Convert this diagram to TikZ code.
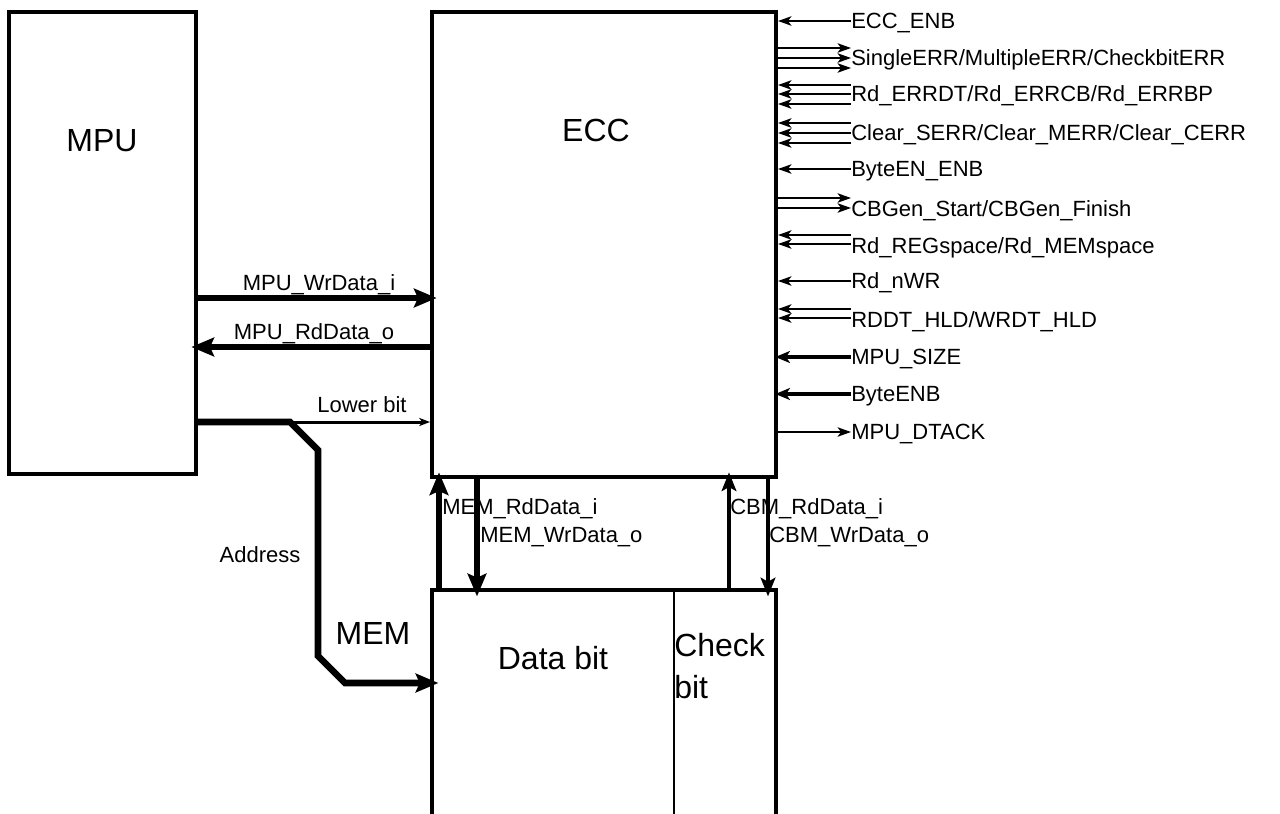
\documentclass[tikz,border=0pt]{standalone}
\usepackage{fontspec}
\setmainfont{Liberation Sans}
\usepackage{tikz}
\usetikzlibrary{arrows.meta, positioning}

\tikzset{
	blk/.style={draw, line width=3pt, inner sep=0pt},
	lbl/.style={inner sep=0pt, font=\fontsize{16.5}{18}\selectfont, text height=11.9pt, text depth=0pt},
	big/.style={inner sep=0pt, font=\fontsize{24}{28}\selectfont, text height=17.3pt, text depth=0pt},
	sigin/.style={line width=1.5pt, -{Stealth[length=10pt, width=7pt, inset=2.5pt]}},
	sigout/.style={line width=1.5pt, -{Stealth[length=10pt, width=7pt, inset=2.5pt]}},
	sigthk/.style={line width=3pt, -{Stealth[length=11pt, width=9pt, inset=3pt]}, shorten >=-2pt},
	bus/.style={line width=5pt, -{Stealth[length=17pt, width=14pt, inset=3pt]}, shorten >=-5pt},
	cbus/.style={line width=3.5pt, -{Stealth[length=14pt, width=11pt, inset=3pt]}, shorten >=-5pt},
	lowbus/.style={line width=2.25pt, -{Stealth[length=8pt, width=6pt, inset=2pt]}},
}

\begin{document}
\begin{tikzpicture}[x=0.75pt, y=-0.75pt]
			\useasboundingbox (0,0) rectangle (1280,813);
			% Paths, nodes and wires:
			\node[blk, minimum width=140.25pt, minimum height=346.5pt](mpu) at (102.5, 243){};
			\node[blk, minimum width=258pt, minimum height=348.75pt](ecc) at (604, 244.5){};
			\node[inner sep=0pt, minimum width=258pt, minimum height=182.25pt](mem) at (604, 711.5){};
			\draw[line width=3pt] (mem.south west) -- (mem.north west) -- (mem.north east) -- (mem.south east);
			\coordinate (divtop) at (674, 592);
			\draw[line width=1.1pt] (divtop) -- (divtop |- mem.south);
			\node[big](mpuT) at (102, 140){MPU};
			\node[big](eccT) at (596, 130){ECC};
			\node[big](memT) at (373, 633){MEM};
			\node[big](dataT) at (553, 658){Data bit};
			\node[inner sep=0pt, anchor=north west, align=left, font=\fontsize{24}{31.5}\selectfont](chkT) at (674, 633){Check\\bit};
			\node[lbl](addrT) at (260, 555){Address};
			% right side signals
			\node[lbl, anchor=west](enb) at (851, 21){ECC\_ENB};
			\draw[sigin] (enb.west) -- (enb.west -| ecc.east);
			\node[lbl, anchor=west](serr) at (851, 58){SingleERR/MultipleERR/CheckbitERR};
			\draw[sigout] (ecc.east |- 0,48) -- (serr.west |- 0,48);
			\draw[sigout] (ecc.east |- 0,58) -- (serr.west |- 0,58);
			\draw[sigout] (ecc.east |- 0,68) -- (serr.west |- 0,68);
			\node[lbl, anchor=west](rderr) at (851, 94){Rd\_ERRDT/Rd\_ERRCB/Rd\_ERRBP};
			\draw[sigin] (rderr.west |- 0,85) -- (ecc.east |- 0,85);
			\draw[sigin] (rderr.west |- 0,94) -- (ecc.east |- 0,94);
			\draw[sigin] (rderr.west |- 0,104) -- (ecc.east |- 0,104);
			\node[lbl, anchor=west](clr) at (851, 133){Clear\_SERR/Clear\_MERR/Clear\_CERR};
			\draw[sigin] (clr.west |- 0,123) -- (ecc.east |- 0,123);
			\draw[sigin] (clr.west |- 0,133) -- (ecc.east |- 0,133);
			\draw[sigin] (clr.west |- 0,143) -- (ecc.east |- 0,143);
			\node[lbl, anchor=west](ben) at (851, 169){ByteEN\_ENB};
			\draw[sigin] (ben.west) -- (ben.west -| ecc.east);
			\node[lbl, anchor=west](cbg) at (851, 209){CBGen\_Start/CBGen\_Finish};
			\draw[sigout] (ecc.east |- 0,198) -- (cbg.west |- 0,198);
			\draw[sigout] (ecc.east |- 0,208) -- (cbg.west |- 0,208);
			\node[lbl, anchor=west](rdsp) at (851, 246){Rd\_REGspace/Rd\_MEMspace};
			\draw[sigin] (rdsp.west |- 0,235) -- (ecc.east |- 0,235);
			\draw[sigin] (rdsp.west |- 0,244) -- (ecc.east |- 0,244);
			\node[lbl, anchor=west](nwr) at (851, 281){Rd\_nWR};
			\draw[sigin] (nwr.west) -- (nwr.west -| ecc.east);
			\node[lbl, anchor=west](hld) at (851, 320){RDDT\_HLD/WRDT\_HLD};
			\draw[sigin] (hld.west |- 0,309) -- (ecc.east |- 0,309);
			\draw[sigin] (hld.west |- 0,318) -- (ecc.east |- 0,318);
			\node[lbl, anchor=west](size) at (851, 357){MPU\_SIZE};
			\draw[sigthk] (size.west) -- (size.west -| ecc.east);
			\node[lbl, anchor=west](benb) at (851, 394){ByteENB};
			\draw[sigthk] (benb.west) -- (benb.west -| ecc.east);
			\node[lbl, anchor=west](dtack) at (851, 432){MPU\_DTACK};
			\draw[sigout] (dtack.west -| ecc.east) -- (dtack.west);
			% MPU <-> ECC, MEM
			\node[lbl](wrT) at (319, 283){MPU\_WrData\_i};
			\draw[bus] (mpu.east |- 0,298) -- (ecc.west |- 0,298);
			\node[lbl](rdT) at (314, 332){MPU\_RdData\_o};
			\draw[bus] (ecc.west |- 0,347) -- (mpu.east |- 0,347);
			\node[lbl](lowT) at (362, 405){Lower bit};
			\draw[lowbus] (mpu.east |- 0,422) -- (ecc.west |- 0,422);
			\draw[bus, line join=miter] (mpu.east |- 0,422) -- (290, 422) -- (318, 450) -- (318, 656) -- (345, 683) -- (mem.west |- 0,683);
			% ECC <-> MEM
			\draw[bus] (mem.north -| 439,0) -- (ecc.south -| 439,0);
			\draw[bus] (ecc.south -| 477,0) -- (mem.north -| 477,0);
			\draw[cbus] (mem.north -| 729,0) -- (ecc.south -| 729,0);
			\draw[cbus] (ecc.south -| 768,0) -- (mem.north -| 768,0);
			\node[lbl, anchor=west](mrd) at (442, 507){MEM\_RdData\_i};
			\node[lbl, anchor=west](mwr) at (480, 535){MEM\_WrData\_o};
			\node[lbl, anchor=west](crd) at (730, 507){CBM\_RdData\_i};
			\node[lbl, anchor=west](cwr) at (769, 535){CBM\_WrData\_o};
		\end{tikzpicture}
\end{document}
